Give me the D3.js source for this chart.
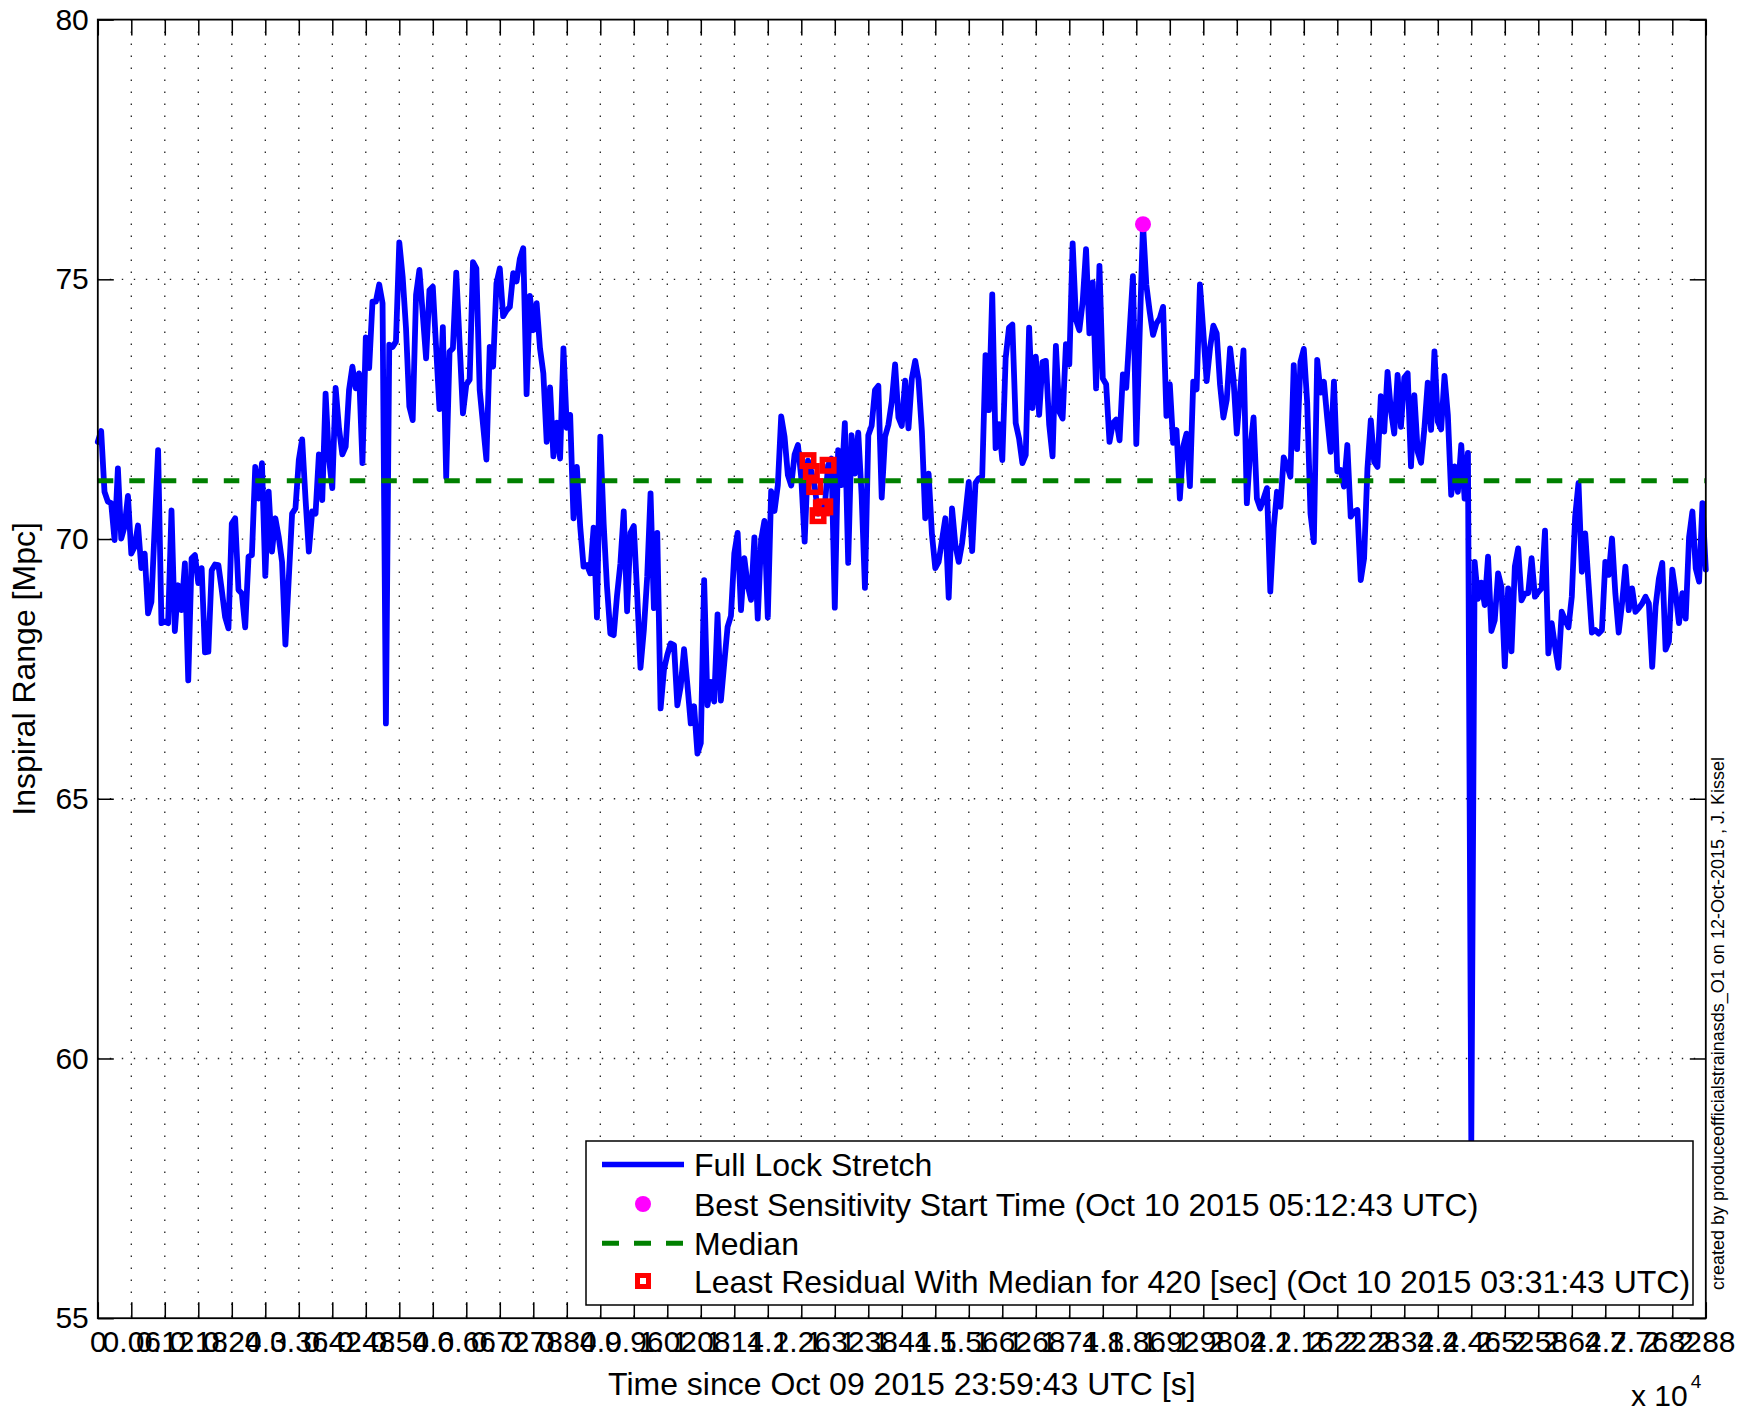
<!DOCTYPE html>
<html><head><meta charset="utf-8">
<script src="https://cdn.jsdelivr.net/npm/d3@7"></script>
<style>
body{margin:0;background:#fff}
svg{display:block}
text{font-family:"Liberation Sans",Arial,Helvetica,sans-serif;fill:#000}
</style>
</head><body>
<svg id="chart" width="1740" height="1411"></svg>
<script>
// ---- data (minutes since Oct 09 2015 23:59:43 UTC, inspiral range in Mpc) ----
const timeMin = [0,1,2,3,4,5,6,7,8,9,10,11,12,13,14,15,16,18,19,20,21,22,23,24,25,26,27,28,29,30,31,32,33,34,35,36,37,38,39,40,41,42,43,44,45,46,47,48,49,50,51,52,53,54,55,56,58,59,60,61,62,63,64,65,66,67,68,69,70,71,72,73,74,75,76,77,78,79,80,81,82,83,84,85,86,87,88,89,90,91,92,93,94,95,96,98,99,100,102,103,104,105,106,107,109,110,111,112,113,114,116,117,118,119,120,121,122,123,124,125,126,127,128,129,130,131,132,133,134,135,136,137,138,139,140,141,142,143,144,145,146,147,148,149,150,151,152,153,154,155,156,157,158,159,160,161,162,163,164,165,166,167,168,169,170,171,172,173,174,175,176,177,178,179,180,181,182,183,184,185,186,187,188,189,190,191,192,193,194,195,196,197,198,199,200,201,202,203,204,205,206,207,208,209,210,211,212,213,214,215,216,217,218,219,220,221,222,223,224,225,226,227,228,229,230,231,232,233,234,235,236,237,238,239,240,241,242,243,244,245,246,247,248,249,250,251,252,253,254,255,256,257,258,259,260,261,262,263,264,265,266,267,268,269,270,271,272,273,274,275,276,277,278,279,280,281,282,283,284,285,286,287,288,289,290,291,292,293,294,295,296,297,298,299,300,301,302,303,304,305,306,307,308,309,310,312,313,314,315,316,317,318,319,320,321,322,323,324,325,326,327,328,329,330,331,332,333,334,335,336,337,338,339,340,341,342,343,344,345,346,347,348,349,350,351,352,353,354,355,356,357,358,359,360,361,362,363,364,365,366,367,368,369,370,371,372,373,374,375,376,377,378,379,380,381,382,383,384,385,386,387,388,389,390,391,392,393,394,395,396,397,398,399,400,401,402,403,404,405,406,407,408,409,410,411,412,413,414,415,416,417,418,419,420,421,422,423,424,425,426,427,428,429,430,431,432,433,434,435,436,437,438,439,440,441,442,443,444,445,446,447,448,449,450,451,452,453,454,455,456,457,458,459,460,461,462,463,464,465,466,467,468,469,470,471,472,473,474,475,476,477,478,479,480];
const rangeMpc = [71.87,72.08,70.91,70.72,70.69,69.98,71.36,70.01,70.24,70.83,69.72,69.85,70.26,69.44,69.72,68.57,68.79,71.71,68.38,68.41,68.38,70.55,68.23,69.11,68.63,69.53,67.28,69.63,69.69,69.15,69.44,67.82,67.83,69.40,69.51,69.50,69.02,68.50,68.28,70.30,70.40,69.02,68.95,68.30,69.66,69.69,71.39,70.78,71.46,69.29,70.91,69.76,70.40,70.04,69.56,67.97,70.49,70.59,71.52,71.92,70.78,69.76,70.53,70.49,71.63,70.75,72.80,71.55,70.98,72.91,72.13,71.63,71.78,72.87,73.32,72.90,73.19,71.46,73.88,73.29,74.57,74.57,74.90,74.54,66.45,73.74,73.70,73.80,75.71,75.05,74.06,72.55,72.29,74.70,75.18,73.48,74.79,74.86,72.50,74.08,71.19,73.61,73.67,75.13,72.42,72.97,73.07,75.33,75.21,72.87,71.53,73.70,73.32,74.92,75.21,74.29,74.40,74.47,75.12,74.96,75.40,75.60,72.79,74.68,74.02,74.54,73.67,73.19,71.87,72.92,71.59,72.24,71.55,73.67,72.14,72.39,70.40,71.39,70.24,69.47,69.50,69.34,70.22,68.49,71.97,70.30,69.08,68.18,68.15,68.92,69.53,70.53,68.61,70.12,70.25,68.95,67.52,68.25,69.27,70.88,68.67,70.12,66.74,67.48,67.77,67.99,67.96,66.80,67.16,67.88,67.19,66.45,66.78,65.87,66.07,69.21,66.80,67.25,66.87,68.55,66.89,67.61,68.31,68.52,69.72,70.12,68.63,69.63,69.11,68.83,70.03,68.47,69.98,70.35,68.49,70.92,70.54,71.04,72.36,71.97,71.23,71.03,71.63,71.81,71.17,69.95,71.51,71.30,71.01,70.49,70.59,70.62,71.42,71.55,68.68,71.71,71.04,72.23,69.54,72.00,71.26,72.05,70.85,69.06,72.00,72.18,72.87,72.95,70.80,71.97,72.20,72.64,73.36,72.34,72.18,73.05,72.13,73.09,73.43,73.06,72.07,70.40,71.26,70.09,69.44,69.56,69.98,70.40,68.87,70.59,69.88,69.56,69.92,70.49,71.10,69.77,71.08,71.17,71.20,73.54,72.48,74.71,71.75,72.21,71.52,73.48,74.07,74.13,72.23,71.94,71.46,71.62,74.07,72.52,73.51,72.39,73.41,73.43,72.20,71.59,73.72,72.45,72.32,73.75,73.36,75.69,74.22,74.02,74.57,75.58,73.96,74.94,72.90,75.26,73.09,72.98,71.87,72.23,72.30,71.90,73.17,72.91,73.99,75.06,71.83,76.06,74.89,74.38,73.93,74.15,74.25,74.47,72.37,72.98,71.85,72.10,70.78,71.78,72.03,71.02,73.03,72.88,74.90,73.99,73.04,73.67,74.11,73.96,72.97,72.34,72.68,73.67,73.09,72.03,72.84,73.63,70.69,71.71,72.34,70.78,70.59,70.78,70.98,68.99,70.21,70.91,70.62,71.57,71.42,71.20,73.35,71.73,73.41,73.66,72.64,70.49,69.94,73.45,72.82,73.03,72.32,71.68,73.03,71.30,71.33,71.01,71.81,70.43,70.53,70.56,69.21,69.63,71.36,72.29,71.49,71.39,72.75,72.07,73.22,72.48,72.03,73.16,72.16,73.11,73.19,71.40,72.77,71.68,71.47,72.13,73.01,72.10,73.61,72.26,72.11,73.14,72.39,70.85,71.40,70.91,71.81,70.78,71.66,58.40,69.56,68.85,69.16,68.73,69.66,68.23,68.44,69.34,69.08,67.55,69.05,67.84,69.47,69.82,68.82,68.95,68.96,69.63,68.89,68.98,69.05,70.16,67.80,68.38,67.93,67.52,68.60,68.44,68.30,68.89,70.43,71.08,69.37,70.11,69.14,68.20,68.25,68.18,68.25,69.56,69.31,70.01,68.95,68.20,68.76,69.47,68.63,69.05,68.60,68.67,68.76,68.89,68.76,67.54,68.70,69.24,69.54,67.87,68.03,69.41,68.95,68.38,68.96,68.47,70.03,70.53,69.43,69.18,70.69,69.41];
const medianMpc = 71.12;
const bestMin = [312];
const bestMpc = [76.06];
const residualMin = [212,213,214,215,216,217,218];
const residualMpc = [71.51,71.30,71.01,70.45,70.60,70.62,71.42];
const xTickSec = d3.range(0, 28801, 600);
const xTickLabels = ["0","0.06","0.12","0.18","0.24","0.3","0.36","0.42","0.48","0.54","0.6","0.66","0.72","0.78","0.84","0.9","0.96","1.02","1.08","1.14","1.2","1.26","1.32","1.38","1.44","1.5","1.56","1.62","1.68","1.74","1.8","1.86","1.92","1.98","2.04","2.1","2.16","2.22","2.28","2.34","2.4","2.46","2.52","2.58","2.64","2.7","2.76","2.82","2.88"];
const yTicks = [55,60,65,70,75,80];
const legendLabels = ["Full Lock Stretch","Best Sensitivity Start Time (Oct 10 2015 05:12:43 UTC)","Median","Least Residual With Median for 420 [sec] (Oct 10 2015 03:31:43 UTC)"];
const xLabel = "Time since Oct 09 2015 23:59:43 UTC [s]";
const yLabel = "Inspiral Range [Mpc]";
const creditText = "created by produceofficialstrainasds_O1 on 12-Oct-2015 , J. Kissel";

// ---- layout ----
const L = 97.8, R = 1705.8, T = 19.6, B = 1318.2;
const svg = d3.select("#chart");
svg.append("rect").attr("width",1740).attr("height",1411).attr("fill","#fff");

const x = d3.scaleLinear().domain([0, 28800]).range([L, R]);
const y = d3.scaleLinear().domain([55, 80]).range([B, T]);

// grid
const grid = svg.append("g").attr("stroke","#222").attr("stroke-width",1.3).attr("stroke-dasharray","1.4,10.6");
grid.selectAll("line.v").data(xTickSec.slice(1,-1)).join("line")
  .attr("x1",d=>x(d)).attr("x2",d=>x(d)).attr("y1",T).attr("y2",B);
grid.selectAll("line.h").data(yTicks.slice(1,-1)).join("line")
  .attr("x1",L).attr("x2",R).attr("y1",d=>y(d)).attr("y2",d=>y(d));

// axes
const fs = 30;
const axB = d3.axisBottom(x).tickValues(xTickSec).tickFormat((d,i)=>xTickLabels[i]).tickSizeInner(-16).tickSizeOuter(0).tickPadding(13);
const axT = d3.axisTop(x).tickValues(xTickSec).tickFormat("").tickSizeInner(-16).tickSizeOuter(0);
const axLft = d3.axisLeft(y).tickValues(yTicks).tickFormat(d3.format("d")).tickSizeInner(-16).tickSizeOuter(0).tickPadding(9);
const axRgt = d3.axisRight(y).tickValues(yTicks).tickFormat("").tickSizeInner(-16).tickSizeOuter(0);
function style(g){ g.select(".domain").remove(); g.selectAll("line").attr("stroke","#000").attr("stroke-width",1.5);
  g.selectAll("text").attr("font-size",fs).attr("font-family",null).attr("fill","#000"); }
svg.append("g").attr("transform",`translate(0,${B})`).call(axB).call(style);
svg.append("g").attr("transform",`translate(0,${T})`).call(axT).call(style);
svg.append("g").attr("transform",`translate(${L},0)`).call(axLft).call(style);
svg.append("g").attr("transform",`translate(${R},0)`).call(axRgt).call(style);

// data line
const pts = timeMin.map((m,i)=>[m*60, rangeMpc[i]]);
const line = d3.line().x(d=>x(d[0])).y(d=>y(d[1]));
svg.append("path").datum(pts).attr("d",line).attr("fill","none")
  .attr("stroke","#0000ff").attr("stroke-width",5.8).attr("stroke-linejoin","round").attr("stroke-linecap","round");

// median
svg.append("line").attr("x1",x(0)).attr("x2",x(28800)).attr("y1",y(medianMpc)).attr("y2",y(medianMpc))
  .attr("stroke","#008000").attr("stroke-width",5).attr("stroke-dasharray","15.5,16");

// least residual squares
svg.append("g").selectAll("rect").data(residualMin.map((m,i)=>[m*60,residualMpc[i]])).join("rect")
  .attr("x",d=>x(d[0])-5.75).attr("y",d=>y(d[1])-5.75).attr("width",11.5).attr("height",11.5)
  .attr("fill","none").attr("stroke","#ff0000").attr("stroke-width",5.5);

// best sensitivity dot
svg.append("g").selectAll("circle").data(bestMin.map((m,i)=>[m*60,bestMpc[i]])).join("circle")
  .attr("cx",d=>x(d[0])).attr("cy",d=>y(d[1])).attr("r",8).attr("fill","#ff00ff");

// box
svg.append("rect").attr("x",L).attr("y",T).attr("width",R-L).attr("height",B-T)
  .attr("fill","none").attr("stroke","#000").attr("stroke-width",1.8);

// labels
svg.append("text").attr("x",(L+R)/2).attr("y",1395).attr("text-anchor","middle").attr("font-size",32).text(xLabel);
svg.append("text").attr("transform",`translate(35,${(T+B)/2}) rotate(-90)`).attr("text-anchor","middle").attr("font-size",32).text(yLabel);
const mult = svg.append("text").attr("x",1631).attr("y",1406).attr("font-size",30);
mult.append("tspan").text("x 10");
mult.append("tspan").attr("font-size",19).attr("dy",-18).attr("dx",3).text("4");
svg.append("text").attr("transform","translate(1724,1290) rotate(-90)").attr("font-size",18).text(creditText);

// legend
const lg = svg.append("g");
lg.append("rect").attr("x",586).attr("y",1141).attr("width",1107).attr("height",164)
  .attr("fill","#fff").attr("stroke","#000").attr("stroke-width",1.5);
const rowY = [1164.5, 1204, 1243.3, 1281];
lg.append("line").attr("x1",602).attr("x2",684).attr("y1",rowY[0]).attr("y2",rowY[0]).attr("stroke","#0000ff").attr("stroke-width",5.5);
lg.append("circle").attr("cx",643).attr("cy",rowY[1]).attr("r",8).attr("fill","#ff00ff");
lg.append("line").attr("x1",602).attr("x2",684).attr("y1",rowY[2]).attr("y2",rowY[2]).attr("stroke","#008000").attr("stroke-width",5).attr("stroke-dasharray","17,15");
lg.append("rect").attr("x",643-5.5).attr("y",rowY[3]-5.5).attr("width",11).attr("height",11).attr("fill","none").attr("stroke","#ff0000").attr("stroke-width",5);
lg.selectAll("text").data(legendLabels).join("text")
  .attr("x",694).attr("y",(d,i)=>rowY[i]+11.5).attr("font-size",32).text(d=>d);
</script>
</body></html>
